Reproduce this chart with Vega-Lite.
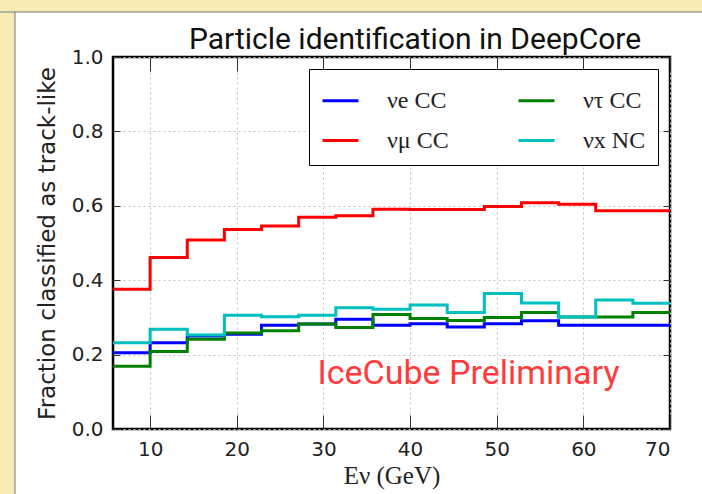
{
  "$schema": "https://vega.github.io/schema/vega-lite/v6.json",
  "width": 557,
  "height": 372,
  "autosize": {"type": "none"},
  "padding": {"left": 113, "top": 57, "right": 32, "bottom": 65},
  "background": "white",
  "config": {
    "view": {"stroke": "black", "strokeWidth": 2.5, "fill": "white"},
    "axis": {
      "labelFont": "DejaVu Sans",
      "labelFontSize": 20,
      "labelColor": "#222",
      "tickColor": "#333",
      "tickWidth": 1,
      "domain": false,
      "gridColor": "#c4c4c4",
      "gridDash": [2, 3],
      "gridWidth": 1
    }
  },
  "datasets": {
    "fractions": [
      {"E": 5.714, "νe CC": 0.205, "νμ CC": 0.376, "ντ CC": 0.169, "νx NC": 0.232},
      {"E": 10.0, "νe CC": 0.232, "νμ CC": 0.461, "ντ CC": 0.208, "νx NC": 0.268},
      {"E": 14.286, "νe CC": 0.250, "νμ CC": 0.508, "ντ CC": 0.241, "νx NC": 0.253},
      {"E": 18.571, "νe CC": 0.255, "νμ CC": 0.536, "ντ CC": 0.258, "νx NC": 0.306},
      {"E": 22.857, "νe CC": 0.279, "νμ CC": 0.546, "ντ CC": 0.264, "νx NC": 0.302},
      {"E": 27.143, "νe CC": 0.282, "νμ CC": 0.569, "ντ CC": 0.282, "νx NC": 0.306},
      {"E": 31.429, "νe CC": 0.295, "νμ CC": 0.573, "ντ CC": 0.273, "νx NC": 0.326},
      {"E": 35.714, "νe CC": 0.279, "νμ CC": 0.591, "ντ CC": 0.308, "νx NC": 0.322},
      {"E": 40.0, "νe CC": 0.283, "νμ CC": 0.590, "ντ CC": 0.297, "νx NC": 0.333},
      {"E": 44.286, "νe CC": 0.274, "νμ CC": 0.590, "ντ CC": 0.292, "νx NC": 0.313},
      {"E": 48.571, "νe CC": 0.283, "νμ CC": 0.598, "ντ CC": 0.300, "νx NC": 0.364},
      {"E": 52.857, "νe CC": 0.291, "νμ CC": 0.608, "ντ CC": 0.313, "νx NC": 0.339},
      {"E": 57.143, "νe CC": 0.279, "νμ CC": 0.604, "ντ CC": 0.301, "νx NC": 0.301},
      {"E": 61.429, "νe CC": 0.279, "νμ CC": 0.587, "ντ CC": 0.301, "νx NC": 0.347},
      {"E": 65.714, "νe CC": 0.279, "νμ CC": 0.587, "ντ CC": 0.313, "νx NC": 0.338},
      {"E": 70.0, "νe CC": 0.279, "νμ CC": 0.587, "ντ CC": 0.313, "νx NC": 0.338}
    ]
  },
  "layer": [
    {
      "data": {"values": [{}]},
      "mark": {"type": "rect", "fill": "#F7ECB5", "stroke": "#777", "strokeWidth": 1},
      "encoding": {
        "x": {"datum": -20, "type": "quantitative", "scale": {"domain": [5.714, 70]}, "axis": null},
        "x2": {"datum": -5.6},
        "y": {"datum": -0.2, "type": "quantitative", "scale": {"domain": [0, 1]}, "axis": null},
        "y2": {"datum": 1.2}
      }
    },
    {
      "data": {"values": [{}]},
      "mark": {"type": "rect", "fill": "#F7ECB5", "stroke": "#777", "strokeWidth": 1},
      "encoding": {
        "x": {"datum": -20, "type": "quantitative", "scale": {"domain": [5.714, 70]}, "axis": null},
        "x2": {"datum": 80},
        "y": {"datum": 1.121, "type": "quantitative", "scale": {"domain": [0, 1]}, "axis": null},
        "y2": {"datum": 1.3}
      }
    },
    {
      "data": {"values": [{}]},
      "mark": {
        "type": "text",
        "text": "Particle identification in DeepCore",
        "font": "Roboto",
        "fontSize": 30,
        "color": "#111",
        "align": "center",
        "baseline": "alphabetic"
      },
      "encoding": {
        "x": {"datum": 40.57, "type": "quantitative", "scale": {"domain": [5.714, 70]}, "axis": null},
        "y": {"datum": 1.0215, "type": "quantitative", "scale": {"domain": [0, 1]}, "axis": null}
      }
    },
    {
      "data": {"name": "fractions"},
      "transform": [
        {"fold": ["νe CC", "νμ CC", "ντ CC", "νx NC"], "as": ["channel", "fraction"]}
      ],
      "mark": {"type": "line", "interpolate": "step-after", "strokeWidth": 3},
      "encoding": {
        "x": {
          "field": "E",
          "type": "quantitative",
          "scale": {"domain": [5.714, 70]},
          "axis": {
            "orient": "bottom",
            "values": [10, 20, 30, 40, 50, 60, 70],
            "grid": true,
            "tickSize": -14,
            "labelPadding": 24,
            "title": "Eν (GeV)",
            "titleFont": "Liberation Serif",
            "titleFontSize": 25,
            "titleFontWeight": "normal",
            "titleColor": "#222",
            "titlePadding": 4
          }
        },
        "y": {
          "field": "fraction",
          "type": "quantitative",
          "scale": {"domain": [0, 1]},
          "axis": {
            "orient": "left",
            "values": [0, 0.2, 0.4, 0.6, 0.8, 1.0],
            "format": ".1f",
            "grid": true,
            "tickSize": -7,
            "labelPadding": 17,
            "title": "Fraction classified as track-like",
            "titleFont": "DejaVu Sans",
            "titleFontSize": 23,
            "titleFontWeight": "normal",
            "titleColor": "#222",
            "titlePadding": 12
          }
        },
        "color": {
          "field": "channel",
          "type": "nominal",
          "scale": {
            "domain": ["νe CC", "νμ CC", "ντ CC", "νx NC"],
            "range": ["#0000ff", "#ff0000", "#008000", "#00bfbf"]
          },
          "legend": {
            "title": null,
            "orient": "top-right",
            "offset": 12,
            "columns": 2,
            "columnPadding": 63,
            "rowPadding": 8,
            "padding": 12,
            "fillColor": "white",
            "strokeColor": "black",
            "symbolType": "stroke",
            "symbolSize": 1296,
            "symbolStrokeWidth": 3,
            "labelOffset": 27,
            "labelFont": "Liberation Serif",
            "labelFontSize": 24,
            "labelColor": "#222",
            "labelLimit": 200
          }
        }
      }
    },
    {
      "data": {"values": [{}]},
      "mark": {
        "type": "text",
        "text": "IceCube Preliminary",
        "font": "Roboto",
        "fontSize": 34,
        "color": "#ff3b3b",
        "align": "center",
        "baseline": "alphabetic"
      },
      "encoding": {
        "x": {
          "datum": 46.74,
          "type": "quantitative",
          "scale": {"domain": [5.714, 70]},
          "axis": {
            "orient": "top",
            "values": [10, 20, 30, 40, 50, 60, 70],
            "labels": false,
            "title": null,
            "grid": false,
            "tickSize": -14
          }
        },
        "y": {
          "datum": 0.121,
          "type": "quantitative",
          "scale": {"domain": [0, 1]},
          "axis": {
            "orient": "right",
            "values": [0, 0.2, 0.4, 0.6, 0.8, 1.0],
            "labels": false,
            "title": null,
            "grid": false,
            "tickSize": -7
          }
        }
      }
    }
  ],
  "resolve": {"axis": {"x": "independent", "y": "independent"}}
}
